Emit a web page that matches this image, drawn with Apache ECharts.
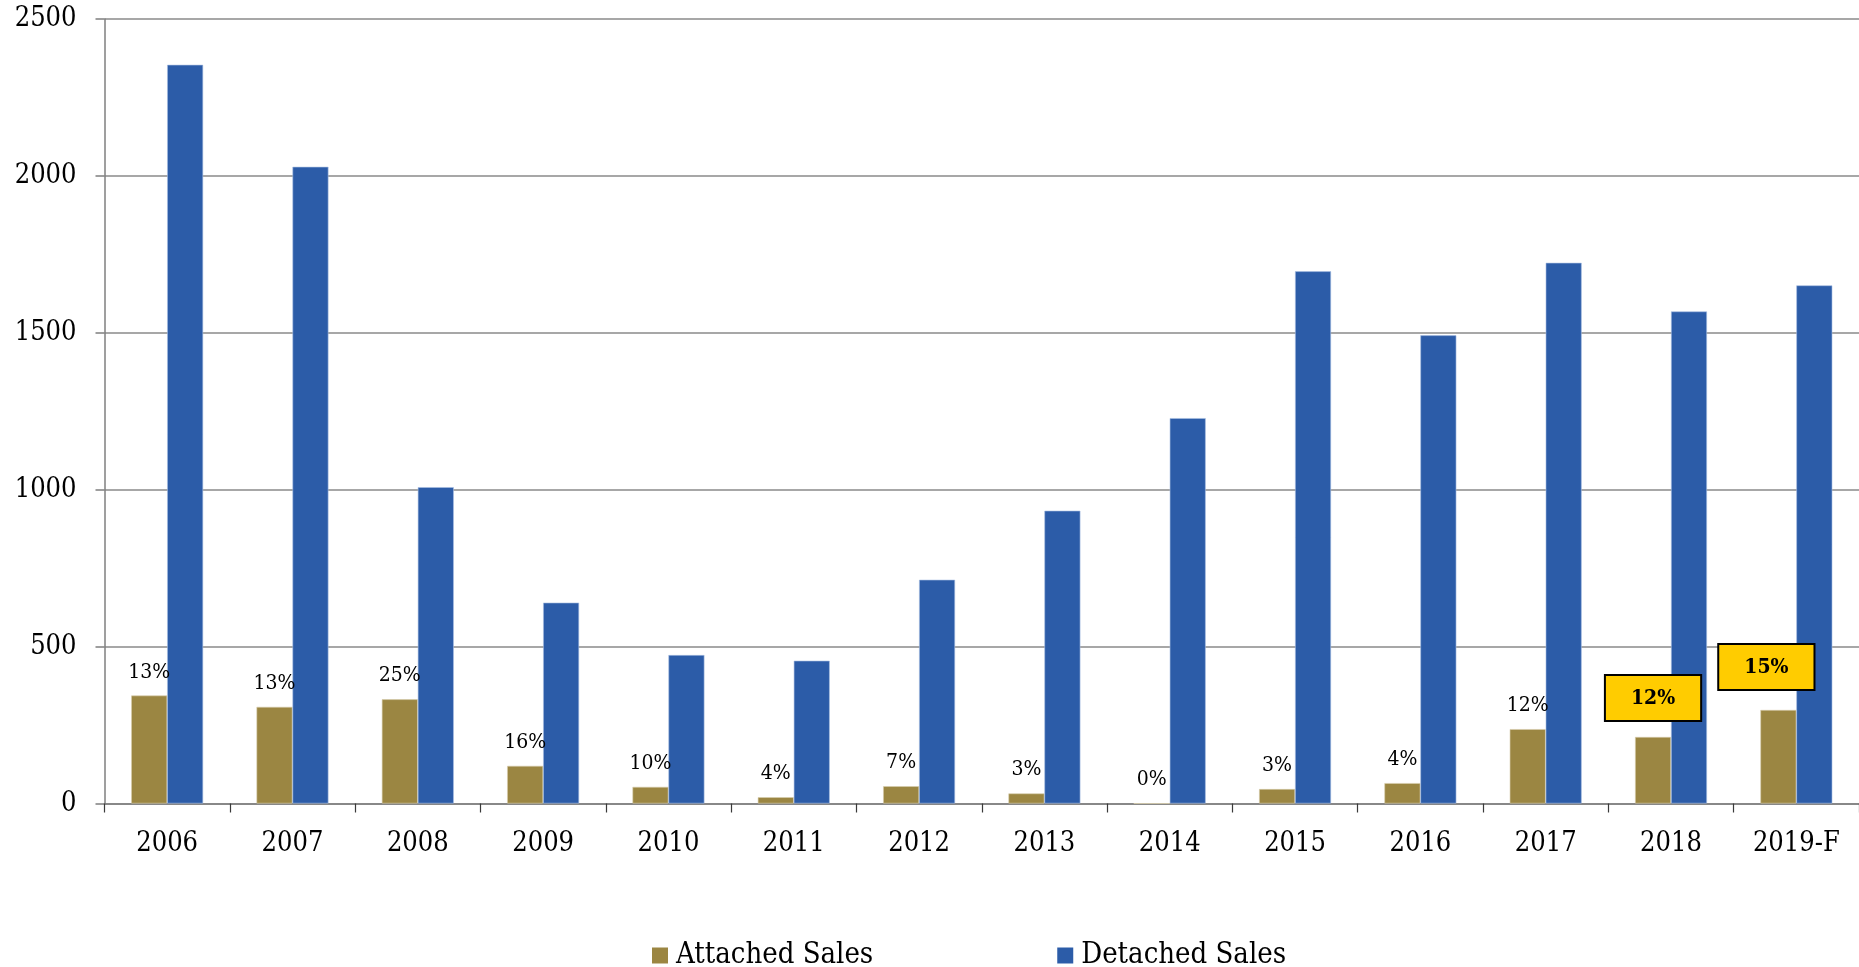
<!DOCTYPE html>
<html>
<head>
<meta charset="utf-8">
<title>Attached and Detached Sales</title>
<script src="https://cdn.jsdelivr.net/npm/echarts@6/dist/echarts.min.js"></script>
<style>
  html, body { margin: 0; padding: 0; background: #ffffff; }
  #chart { width: 1859px; height: 967px; }
</style>
</head>
<body>
<div id="chart"></div>
<script>
// Annual sales counts by home type
const years = ['2006', '2007', '2008', '2009', '2010', '2011', '2012', '2013', '2014', '2015', '2016', '2017', '2018', '2019-F'];
const attachedSales = [344, 308, 332, 120, 53, 20, 55, 32, 0, 46, 65, 237, 212, 298];
const detachedSales = [2354, 2029, 1008, 640, 473, 455, 713, 933, 1228, 1696, 1492, 1723, 1568, 1651];
// Attached share of total sales, shown above the attached bars
const attachedShare = ['13%', '13%', '25%', '16%', '10%', '4%', '7%', '3%', '0%', '3%', '4%', '12%', '12%', '15%'];
// Years whose share is called out in a highlighted box
const highlightedYears = ['2018', '2019-F'];
const yTicks = [0, 500, 1000, 1500, 2000, 2500];

const FONT = '"DejaVu Serif Condensed", "DejaVu Serif", "Liberation Serif", serif';
const ATTACHED = '#9B8642';
const DETACHED = '#2C5CA8';

const plainLabel = {
  show: true,
  position: 'top',
  distance: 13,
  fontFamily: FONT,
  fontSize: 21,
  color: '#000000'
};

const attachedData = attachedSales.map((v, i) => {
  const item = { value: v };
  if (highlightedYears.includes(years[i])) {
    item.label = {
      show: true,
      position: 'top',
      distance: years[i] === '2019-F' ? 21 : 17,
      offset: years[i] === '2019-F' ? [-12, 0] : [0, 0],
      fontFamily: FONT,
      fontSize: 21,
      fontWeight: 'bold',
      color: '#000000',
      backgroundColor: '#FFCC00',
      borderColor: '#000000',
      borderWidth: 2,
      padding: [12, 25, 11, 25]
    };
  }
  return item;
});

const chart = echarts.init(document.getElementById('chart'), null, { renderer: 'canvas' });

chart.setOption({
  animation: false,
  backgroundColor: '#ffffff',
  textStyle: { fontFamily: FONT },
  grid: { left: 104.5, right: 0, top: 19, bottom: 163.5, containLabel: false },
  legend: {
    data: ['Attached Sales', 'Detached Sales'],
    left: 647,
    top: 936,
    itemWidth: 16,
    itemHeight: 16,
    itemGap: 184,
    icon: 'rect',
    itemStyle: { borderWidth: 0 },
    textStyle: { fontFamily: FONT, fontSize: 29, color: '#000000', padding: [0, 0, 0, 3] }
  },
  xAxis: {
    type: 'category',
    data: years,
    boundaryGap: true,
    axisLine: { show: true, lineStyle: { color: '#7f7f7f', width: 1.5 } },
    axisTick: { show: true, length: 9, alignWithLabel: false, lineStyle: { color: '#3a3a3a', width: 1.2 } },
    axisLabel: { margin: 27, fontFamily: FONT, fontSize: 27, color: '#000000', interval: 0 }
  },
  yAxis: {
    type: 'value',
    min: yTicks[0],
    max: yTicks[yTicks.length - 1],
    interval: yTicks[1] - yTicks[0],
    axisLine: { show: true, lineStyle: { color: '#7f7f7f', width: 1.5 } },
    axisTick: { show: true, length: 9, inside: false, lineStyle: { color: '#7f7f7f', width: 1.5 } },
    axisLabel: { margin: 28, fontFamily: FONT, fontSize: 27, color: '#000000', formatter: v => String(v) },
    splitLine: { show: true, lineStyle: { color: '#8a8a8a', width: 1.5 } }
  },
  series: [
    {
      name: 'Attached Sales',
      type: 'bar',
      data: attachedData,
      barGap: '0%',
      barCategoryGap: '42.6%',
      itemStyle: { color: ATTACHED, borderColor: '#d9cfae', borderWidth: 0.6 },
      label: Object.assign({}, plainLabel, {
        formatter: p => attachedShare[p.dataIndex]
      })
    },
    {
      name: 'Detached Sales',
      type: 'bar',
      data: detachedSales,
      barGap: '0%',
      barCategoryGap: '42.6%',
      itemStyle: { color: DETACHED, borderColor: '#a9bfe3', borderWidth: 0.6 }
    }
  ]
});
</script>
</body>
</html>
